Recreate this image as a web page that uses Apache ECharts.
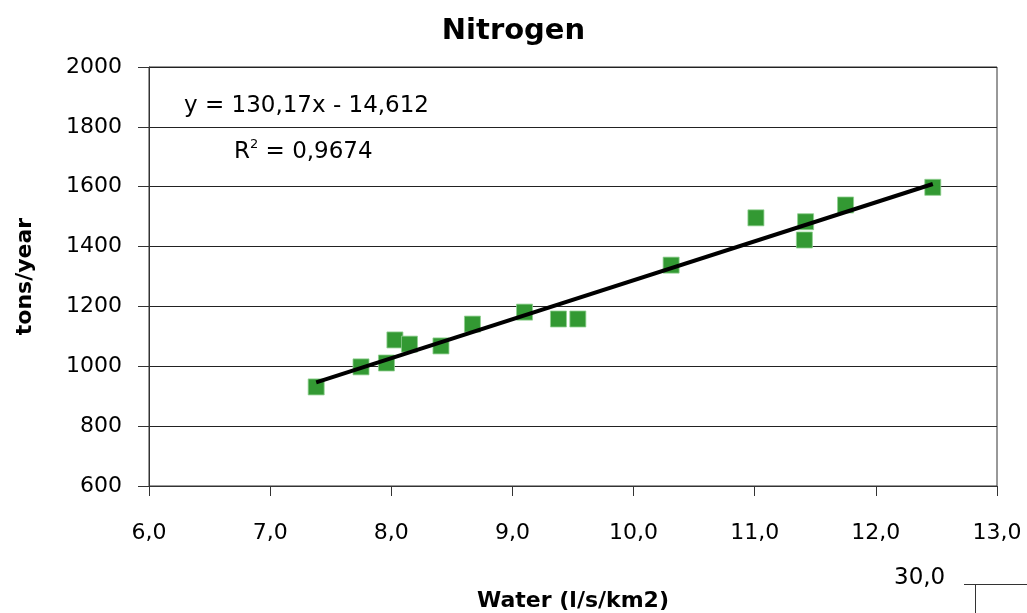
<!DOCTYPE html>
<html><head><meta charset="utf-8">
<script src="https://cdn.jsdelivr.net/npm/echarts@6/dist/echarts.min.js"></script>
<style>html,body{margin:0;padding:0;background:#fff}#c{width:1027px;height:613px}</style>
</head><body><div id="c"></div>
<script>
const waterX = [7.38, 7.75, 7.96, 8.03, 8.15, 8.41, 8.67, 9.10, 9.38, 9.54, 10.31, 11.01, 11.42, 11.41, 11.75, 12.47];
const nitrogenY = [931, 998, 1011, 1088, 1074, 1068, 1141, 1181, 1158, 1158, 1338, 1496, 1483, 1422, 1539, 1598];
const trendX = [7.38, 12.47];
const trendY = [946, 1609];
const xTicks = ['6,0','7,0','8,0','9,0','10,0','11,0','12,0','13,0'];
const FONT = 'DejaVu Sans';

const chart = echarts.init(document.getElementById('c'));
chart.setOption({
  animation: false,
  backgroundColor: '#fff',
  title: { text: 'Nitrogen', left: 'center', top: 12,
    textStyle: { fontFamily: FONT, fontWeight: 'bold', fontSize: 29, color: '#000' } },
  grid: { left: 149, right: 30, top: 67, bottom: 127, show: true, borderColor: '#333', borderWidth: 1,
    containLabel: false, outerBoundsMode: 'none' },
  xAxis: {
    type: 'value', min: 6, max: 13, interval: 1,
    name: 'Water (l/s/km2)', nameLocation: 'middle', nameGap: 104,
    nameTextStyle: { fontFamily: FONT, fontWeight: 'bold', fontSize: 22, color: '#000' },
    axisLine: { show: true, lineStyle: { color: '#333' } },
    axisTick: { show: true, inside: false, length: 10, lineStyle: { color: '#333' } },
    splitLine: { show: false },
    axisLabel: { fontFamily: FONT, fontSize: 22, color: '#000', margin: 36,
      formatter: v => xTicks[Math.round(v - 6)] }
  },
  yAxis: {
    type: 'value', min: 600, max: 2000, interval: 200,
    name: 'tons/year', nameLocation: 'middle', nameGap: 113, nameRotate: 90,
    nameTextStyle: { fontFamily: FONT, fontWeight: 'bold', fontSize: 22, color: '#000' },
    axisLine: { show: true, lineStyle: { color: '#333' } },
    axisTick: { show: true, length: 11, lineStyle: { color: '#333' } },
    splitLine: { show: true, lineStyle: { color: '#222', width: 1 } },
    axisLabel: { fontFamily: FONT, fontSize: 22, color: '#000', margin: 27,
      formatter: v => String(v) }
  },
  series: [
    { type: 'scatter', symbol: 'rect', symbolSize: 16,
      itemStyle: { color: '#339933', borderColor: '#8fcf8f', borderWidth: 0.8, opacity: 1 },
      data: waterX.map((x, i) => [x, nitrogenY[i]]), z: 2 },
    { type: 'line', showSymbol: false, symbol: 'none',
      lineStyle: { color: '#000', width: 4 },
      data: trendX.map((x, i) => [x, trendY[i]]), z: 3 }
  ],
  graphic: [
    { type: 'text', left: 184, top: 95,
      style: { text: 'y = 130,17x - 14,612', font: '23px "DejaVu Sans"', fill: '#000' } },
    { type: 'text', left: 234, top: 138,
      style: { text: 'R{s|2} = 0,9674', font: '23px "DejaVu Sans"', fill: '#000',
        rich: { s: { fontSize: 13, verticalAlign: 'top', padding: [0,0,16,0], fontFamily: FONT } } } },
    { type: 'text', left: 894, top: 567,
      style: { text: '30,0', font: '23px "DejaVu Sans"', fill: '#000' } },
    { type: 'line', shape: { x1: 964, y1: 584.5, x2: 1027, y2: 584.5 }, style: { stroke: '#333', lineWidth: 1 } },
    { type: 'line', shape: { x1: 975.5, y1: 584, x2: 975.5, y2: 613 }, style: { stroke: '#333', lineWidth: 1 } }
  ]
});
</script></body></html>
